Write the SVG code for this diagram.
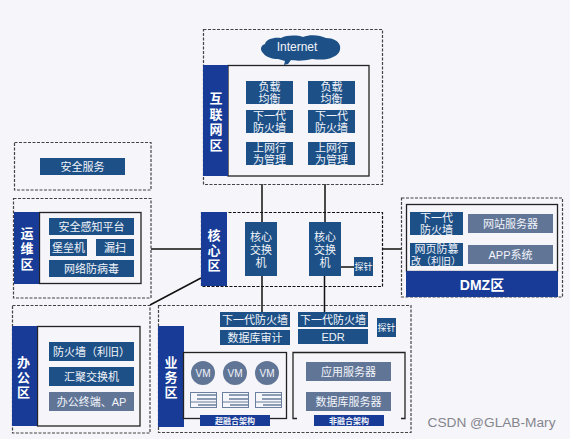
<svg xmlns="http://www.w3.org/2000/svg" width="570" height="439" viewBox="0 0 570 439">
<style>
text{font-family:"Liberation Sans","Noto Sans CJK SC",sans-serif;fill:#f2f4fa;text-anchor:middle}
.zone{fill:none;stroke:#444;stroke-width:1.2;stroke-dasharray:3 1.5}
.box{fill:#f5f5fa;stroke:#222;stroke-width:1.3}
.lab{fill:#173b97}
.n{fill:#1d5086}
.g{fill:#617697}
.t{font-size:11px}
.b{font-size:13px;font-weight:700;fill:#fff}
.c{fill:none;stroke:#111;stroke-width:1.5}
.s{fill:#f5f5fa;stroke:#6b7f9e;stroke-width:1}
.sb{fill:none;stroke:#6b7f9e;stroke-width:1.6}
.vm{font-size:10px}
.p{font-size:9px}
.m{font-size:8px;font-weight:700}
</style>
<rect width="570" height="439" fill="#f5f5fa"/>
<g id="connectors">
<path class="c" d="M262 184V222M325 184V222M262 276V312M324.500 276V312M151 249H201M150 305L201 278M382 249H401M341 267H354"/>
</g>
<g id="zone-internet">
<rect class="zone" x="203.500" y="29.500" width="179" height="155"/>
<rect class="box" x="228" y="65.500" width="141" height="110.500"/>
<rect class="lab" x="203" y="65" width="25" height="111"/>
<text class="b"><tspan x="216" y="103">互</tspan><tspan x="216" y="119">联</tspan><tspan x="216" y="134">网</tspan><tspan x="216" y="150">区</tspan></text>
</g>
<g id="internet">
<path class="n" d="M284 65L285 61L278 59C272 59 266 57 263 53C260 50 260 46 265 44C266 39 274 37 281 38C287 35 297 35 303 37C310 34 320 35 326 38C333 38 339 41 340 46C341 51 338 55 333 57C328 60 320 60 312 59C304 61 296 61 291 60L288 64Z"/>
<text x="297" y="51" style="font-size:12px">Internet</text>
</g>
<g id="lb-1"><rect class="n" x="246" y="81" width="47" height="23"/><text class="t"><tspan x="269.500" y="91">负载</tspan><tspan x="269.500" y="103">均衡</tspan></text></g>
<g id="lb-2"><rect class="n" x="308" y="81" width="47" height="23"/><text class="t"><tspan x="331.500" y="91">负载</tspan><tspan x="331.500" y="103">均衡</tspan></text></g>
<g id="fw-1"><rect class="n" x="246" y="110" width="47" height="23"/><text class="t"><tspan x="269.500" y="120">下一代</tspan><tspan x="269.500" y="132">防火墙</tspan></text></g>
<g id="fw-2"><rect class="n" x="308" y="110" width="47" height="23"/><text class="t"><tspan x="331.500" y="120">下一代</tspan><tspan x="331.500" y="132">防火墙</tspan></text></g>
<g id="bm-1"><rect class="n" x="246" y="142" width="47" height="23"/><text class="t"><tspan x="269.500" y="152">上网行</tspan><tspan x="269.500" y="164">为管理</tspan></text></g>
<g id="bm-2"><rect class="n" x="308" y="142" width="47" height="23"/><text class="t"><tspan x="331.500" y="152">上网行</tspan><tspan x="331.500" y="164">为管理</tspan></text></g>

<g id="zone-security">
<rect class="zone" x="14.500" y="142.500" width="136.500" height="47.500"/>
<rect class="n" x="40" y="158" width="85" height="17"/><text class="t" x="82.500" y="171">安全服务</text>
</g>

<g id="zone-ops">
<rect class="zone" x="13.500" y="198.500" width="137.500" height="99.500"/>
<rect class="box" x="39.500" y="212.500" width="101.500" height="71"/>
<rect class="lab" x="14" y="212" width="25" height="72"/>
<text class="b"><tspan x="27" y="238">运</tspan><tspan x="27" y="253">维</tspan><tspan x="27" y="269">区</tspan></text>
</g>
<g id="sa"><rect class="n" x="49" y="218" width="85" height="17"/><text class="t" x="91.500" y="231">安全感知平台</text></g>
<g id="bastion"><rect class="n" x="50" y="239" width="37" height="17"/><text class="t" x="68.500" y="252">堡垒机</text></g>
<g id="scan"><rect class="n" x="96" y="239" width="38" height="17"/><text class="t" x="115" y="252">漏扫</text></g>
<g id="av"><rect class="n" x="49" y="260" width="85" height="17"/><text class="t" x="91.500" y="273">网络防病毒</text></g>

<g id="zone-core">
<rect class="zone" x="201.500" y="212.500" width="181" height="74" style="stroke:#111"/>
<rect class="lab" x="201" y="212" width="26" height="74"/>
<text class="b"><tspan x="214" y="240">核</tspan><tspan x="214" y="255">心</tspan><tspan x="214" y="270">区</tspan></text>
</g>
<g id="core-1"><rect class="n" x="245" y="222" width="32" height="54"/><text class="t"><tspan x="261" y="241">核心</tspan><tspan x="261" y="254">交换</tspan><tspan x="261" y="267">机</tspan></text></g>
<g id="core-2"><rect class="n" x="309" y="222" width="32" height="54"/><text class="t"><tspan x="325" y="241">核心</tspan><tspan x="325" y="254">交换</tspan><tspan x="325" y="267">机</tspan></text></g>
<g id="probe-1"><rect class="n" x="354" y="257" width="19" height="19"/><text class="p" x="363.500" y="270">探针</text></g>

<g id="zone-dmz">
<rect class="zone" x="401.500" y="198" width="161" height="99"/>
<rect class="box" x="406.500" y="204.500" width="151" height="67"/>
<rect class="lab" x="406" y="271" width="152" height="26"/>
<text class="b" x="482" y="290" style="font-size:14px">DMZ区</text>
</g>
<g id="dmz-fw"><rect class="n" x="410" y="212" width="53" height="23"/><text class="t"><tspan x="436.500" y="222">下一代</tspan><tspan x="436.500" y="234">防火墙</tspan></text></g>
<g id="dmz-waf"><rect class="n" x="410" y="243" width="53" height="23"/><text class="t"><tspan x="436.500" y="253">网页防篡</tspan><tspan x="436" y="265" style="font-size:10px">改（利旧）</tspan></text></g>
<g id="web"><rect class="g" x="468" y="214" width="85" height="19"/><text class="t" x="510.500" y="228">网站服务器</text></g>
<g id="app"><rect class="g" x="468" y="245" width="85" height="19"/><text class="t" x="510.500" y="259">APP系统</text></g>

<g id="zone-office">
<rect class="zone" x="12.500" y="305.500" width="137.500" height="127.500"/>
<rect class="box" x="37.500" y="326.500" width="102.500" height="99.500"/>
<rect class="lab" x="12" y="326" width="25" height="100"/>
<text class="b"><tspan x="23.500" y="367">办</tspan><tspan x="23.500" y="382">公</tspan><tspan x="23.500" y="397">区</tspan></text>
</g>
<g id="office-fw"><rect class="n" x="49" y="342" width="85" height="19"/><text class="t" x="91.500" y="356">防火墙（利旧）</text></g>
<g id="office-sw"><rect class="n" x="49" y="367" width="85" height="19"/><text class="t" x="91.500" y="381">汇聚交换机</text></g>
<g id="office-ep"><rect class="g" x="49" y="392" width="85" height="19"/><text class="t" x="91.500" y="406">办公终端、AP</text></g>

<g id="zone-biz">
<rect class="zone" x="158.500" y="305.500" width="252.500" height="127"/>
<rect class="lab" x="158" y="326" width="26" height="101"/>
<text class="b"><tspan x="171" y="367">业</tspan><tspan x="171" y="382">务</tspan><tspan x="171" y="397">区</tspan></text>
<rect class="box" x="183.500" y="352.500" width="103" height="66"/>
<path class="box" style="fill:none" d="M297 418.500H293V352.500H405V418.500H401"/>
</g>
<g id="biz-fw-1"><rect class="n" x="220" y="312" width="70" height="15"/><text class="t" x="255" y="324">下一代防火墙</text></g>
<g id="db-audit"><rect class="n" x="220" y="330" width="70" height="15"/><text class="t" x="255" y="342">数据库审计</text></g>
<g id="biz-fw-2"><rect class="n" x="298" y="312" width="70" height="15"/><text class="t" x="333" y="324">下一代防火墙</text></g>
<g id="edr"><rect class="n" x="298" y="329" width="70" height="15"/><text class="t" x="333" y="341">EDR</text></g>
<g id="probe-2"><rect class="n" x="377" y="318" width="19" height="19"/><text class="p" x="386.500" y="331">探针</text></g>
<g id="vm-1"><circle class="g" cx="203" cy="373" r="12"/><text class="vm" x="203" y="377">VM</text></g>
<g id="vm-2"><circle class="g" cx="235" cy="373" r="12"/><text class="vm" x="235" y="377">VM</text></g>
<g id="vm-3"><circle class="g" cx="267" cy="373" r="12"/><text class="vm" x="267" y="377">VM</text></g>
<g id="srv-1"><rect class="s" x="190.500" y="392.500" width="26" height="15"/><path class="s" d="M190.500 402H216.500"/><path class="sb" d="M197 395H216M197 399H216M198 405H216"/></g>
<g id="srv-2"><rect class="s" x="222.500" y="392.500" width="26" height="15"/><path class="s" d="M222.500 402H248.500"/><path class="sb" d="M229 395H248M229 399H248M230 405H248"/></g>
<g id="srv-3"><rect class="s" x="255.500" y="392.500" width="26" height="15"/><path class="s" d="M255.500 402H281.500"/><path class="sb" d="M262 395H281M262 399H281M263 405H281"/></g>
<g id="hci"><rect class="lab" x="200" y="415" width="70" height="11"/><text class="m" x="235" y="424">超融合架构</text></g>
<g id="app-srv"><rect class="g" x="306" y="362" width="85" height="19"/><text class="t" x="348.500" y="376">应用服务器</text></g>
<g id="db-srv"><rect class="g" x="306" y="392" width="85" height="19"/><text class="t" x="348.500" y="406">数据库服务器</text></g>
<g id="nhci"><rect class="lab" x="314" y="415" width="70" height="11"/><text class="m" x="349" y="424">非融合架构</text></g>
<text x="491.500" y="427" style="font-size:13.700px;fill:#85858d">CSDN @GLAB-Mary</text>
</svg>
